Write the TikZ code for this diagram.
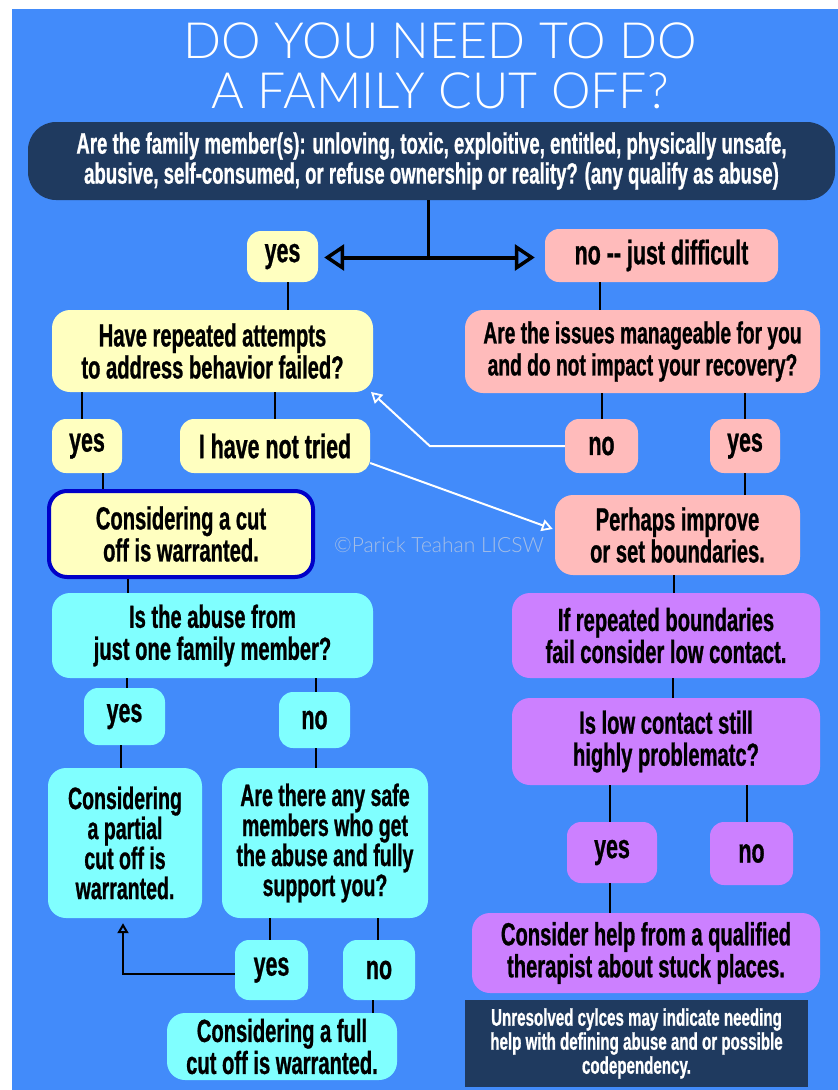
\documentclass[tikz,border=0pt]{standalone}
\usepackage{fontspec}
\usetikzlibrary{arrows.meta}
\newfontfamily\cond{Liberation Sans}[FakeStretch=0.63,FakeBold=0.8]
\newfontfamily\titlefont{Lato Light}
\definecolor{bg}{RGB}{66,139,250}
\definecolor{navy}{RGB}{31,58,95}
\definecolor{yel}{RGB}{255,255,192}
\definecolor{pnk}{RGB}{255,187,187}
\definecolor{cyn}{RGB}{128,255,255}
\definecolor{prp}{RGB}{204,128,255}
\definecolor{bord}{RGB}{0,0,200}
\definecolor{wm}{RGB}{165,190,230}
\begin{document}
\begin{tikzpicture}[x=1pt,y=-1pt,
  box/.style={rounded corners=18pt, inner sep=0pt, align=center, text=black,
    font=\cond\bfseries\fontsize{32}{32}\selectfont},
  small/.style={box, rounded corners=14pt, font=\cond\bfseries\fontsize{34}{32}\selectfont},
  sz/.style 2 args={minimum width=#1pt, minimum height=#2pt},
  conn/.style={draw=black, line width=2pt},
  warrow/.style={draw=white, line width=2pt, -{Triangle[open,length=11pt,width=12pt,line width=1.8pt]}},
  barrow/.style={draw=black, line width=2.2pt, -{Triangle[open,length=10pt,width=11pt,line width=2pt]}},
]
\useasboundingbox (0,0) rectangle (838,1090);
\fill[white] (0,0) rectangle (838,1090);
\fill[bg] (12,9) rectangle (838,1090);

% title
\node[text=white, anchor=base, inner sep=0pt, font=\titlefont\fontsize{50}{52}\selectfont] (t1) at (440,58) {DO YOU NEED TO DO};
\node[text=white, anchor=base, inner sep=0pt, font=\titlefont\fontsize{50}{52}\selectfont] (t2) at (440,108) {A FAMILY CUT OFF?};

% top question
\node[box, fill=navy, text=white, rounded corners=28pt, sz={807}{78},
  font=\cond\bfseries\fontsize{29.5}{30}\selectfont] (top) at (431.5,161)
  {Are the family member(s): unloving, toxic, exploitive, entitled, physically unsafe,\\abusive, self-consumed, or refuse ownership or reality? (any qualify as abuse)};

\node[small, fill=yel, sz={71}{51}] (yes1) at (282.5,256.5) {yes};
\node[small, fill=pnk, sz={233}{53}] (nodiff) at (661.5,255.5) {no -- just difficult};

\node[box, fill=yel, sz={321}{82}] (have) at (212.5,351) {Have repeated attempts\\to address behavior failed?};
\node[box, fill=pnk, sz={355}{83}, font=\cond\bfseries\fontsize{30.5}{32}\selectfont] (manage) at (642.5,351.5) {Are the issues manageable for you\\and do not impact your recovery?};

\node[small, fill=yel, sz={70}{54}] (yes2) at (87,446) {yes};
\node[small, fill=yel, sz={190}{54}] (nottried) at (275,446) {I have not tried};
\node[small, fill=pnk, sz={73}{54}] (no3) at (601.5,446) {no};
\node[small, fill=pnk, sz={70}{54}] (yes3) at (745,446) {yes};

\node[box, fill=yel, draw=bord, line width=4pt, sz={264}{86}] (cut) at (181,534) {Considering a cut\\off is warranted.};
\node[box, fill=pnk, sz={245}{80}] (perhaps) at (677.5,535) {Perhaps improve\\or set boundaries.};
\node[text=wm, inner sep=0pt, font=\titlefont\fontsize{21}{22}\selectfont] (wmk) at (439,545) {\textcopyright Parick Teahan LICSW};

\node[box, fill=cyn, sz={321}{85}] (abuse) at (212.5,635.5) {Is the abuse from\\just one family member?};
\node[box, fill=prp, sz={308}{85}] (ifrep) at (666,635.5) {If repeated boundaries\\fail consider low contact.};
\node[box, fill=prp, sz={308}{87}] (lowc) at (666,741.5) {Is low contact still\\highly problematc?};

\node[small, fill=cyn, sz={81}{57}] (yes4) at (124.5,716.5) {yes};
\node[small, fill=cyn, sz={71}{56}] (no4) at (314.5,720) {no};

\node[box, fill=cyn, sz={154}{150}, font=\cond\bfseries\fontsize{31}{30}\selectfont] (partial) at (125,843) {Considering\\a partial\\cut off is\\warranted.};
\node[box, fill=cyn, sz={206}{150}, font=\cond\bfseries\fontsize{31}{30}\selectfont] (safe) at (325,843) {Are there any safe\\members who get\\the abuse and fully\\support you?};

\node[small, fill=prp, sz={90}{61}] (yes5) at (612,852.5) {yes};
\node[small, fill=prp, sz={83}{63}] (no5) at (751.5,853.5) {no};
\node[box, fill=prp, sz={348}{80}] (help) at (646,953) {Consider help from a qualified\\therapist about stuck places.};
\node[fill=navy, text=white, inner sep=0pt, align=center, sz={343}{87},
  font=\cond\bfseries\fontsize{24}{24}\selectfont] (unres) at (636.5,1043.5)
  {Unresolved cylces may indicate needing\\help with defining abuse and or possible\\codependency.};

\node[small, fill=cyn, sz={73}{60}] (yes6) at (271.5,970) {yes};
\node[small, fill=cyn, sz={72}{60}] (no6) at (379,970) {no};
\node[box, fill=cyn, sz={230}{67}] (full) at (282,1046.5) {Considering a full\\cut off is warranted.};

% connectors
\coordinate (j) at ([xshift=-3.5pt]top.south |- yes1.east);
\draw[line width=3pt] ([xshift=-3.5pt]top.south) -- (j);
\draw[line width=4pt, {Triangle[open,length=20pt,width=26pt,line width=3.5pt]}-{Triangle[open,length=20pt,width=26pt,line width=3.5pt]}, shorten <=6pt, shorten >=10pt]
  ([yshift=-1pt]yes1.east) -- ([yshift=-1pt]nodiff.west |- yes1.east);

\draw[conn] ([xshift=5.5pt]yes1.south) -- ([xshift=5.5pt]yes1.south |- have.north);
\draw[conn] ([xshift=-61.5pt]nodiff.south) -- ([xshift=-61.5pt]nodiff.south |- manage.north);
\draw[conn] ([xshift=-5pt]yes2.north) -- ([xshift=-5pt]yes2.north |- have.south);
\draw[conn] (nottried.north) -- (nottried.north |- have.south);
\draw[conn] (no3.north) -- (no3.north |- manage.south);
\draw[conn] (yes3.north) -- (yes3.north |- manage.south);

\draw[warrow, shorten >=1pt] (no3.west) -- ([xshift=-135pt]no3.west) -- ([xshift=-3pt,yshift=1pt]have.south east);
\draw[warrow] ([yshift=-17pt]nottried.east) -- ([xshift=-2pt,yshift=6pt]perhaps.west);

\draw[conn] ([xshift=16pt]yes2.south) -- ([xshift=16pt]yes2.south |- cut.north);
\draw[conn] (yes3.south) -- (yes3.south |- perhaps.north);
\draw[conn] ([xshift=-53pt]cut.south) -- ([xshift=-53pt]cut.south |- abuse.north);
\draw[conn] ([xshift=-4pt]perhaps.south) -- ([xshift=-4pt]perhaps.south |- ifrep.north);
\draw[conn] ([xshift=7pt]ifrep.south) -- ([xshift=7pt]ifrep.south |- lowc.north);

\draw[conn] ([xshift=2pt]yes4.north) -- ([xshift=2pt]yes4.north |- abuse.south);
\draw[conn] ([xshift=1.5pt]no4.north) -- ([xshift=1.5pt]no4.north |- abuse.south);
\draw[conn] ([xshift=-4pt]yes4.south) -- ([xshift=-4pt]yes4.south |- partial.north);
\draw[conn] ([xshift=1.5pt]no4.south) -- ([xshift=1.5pt]no4.south |- safe.north);

\draw[conn] ([xshift=-2pt]yes5.north) -- ([xshift=-2pt]yes5.north |- lowc.south);
\draw[conn] ([xshift=-5pt]no5.north) -- ([xshift=-5pt]no5.north |- lowc.south);
\draw[conn] ([xshift=-2pt]yes5.south) -- ([xshift=-2pt]yes5.south |- help.north);

\draw[conn] ([xshift=-1.5pt]yes6.north) -- ([xshift=-1.5pt]yes6.north |- safe.south);
\draw[conn] ([xshift=-1pt]no6.north) -- ([xshift=-1pt]no6.north |- safe.south);
\draw[conn] ([xshift=-6pt]no6.south) -- ([xshift=-6pt]no6.south |- full.north);

\draw[barrow, shorten >=5pt] ([yshift=-4pt]yes6.west) -| ([xshift=-2pt]partial.south);
\end{tikzpicture}
\end{document}
